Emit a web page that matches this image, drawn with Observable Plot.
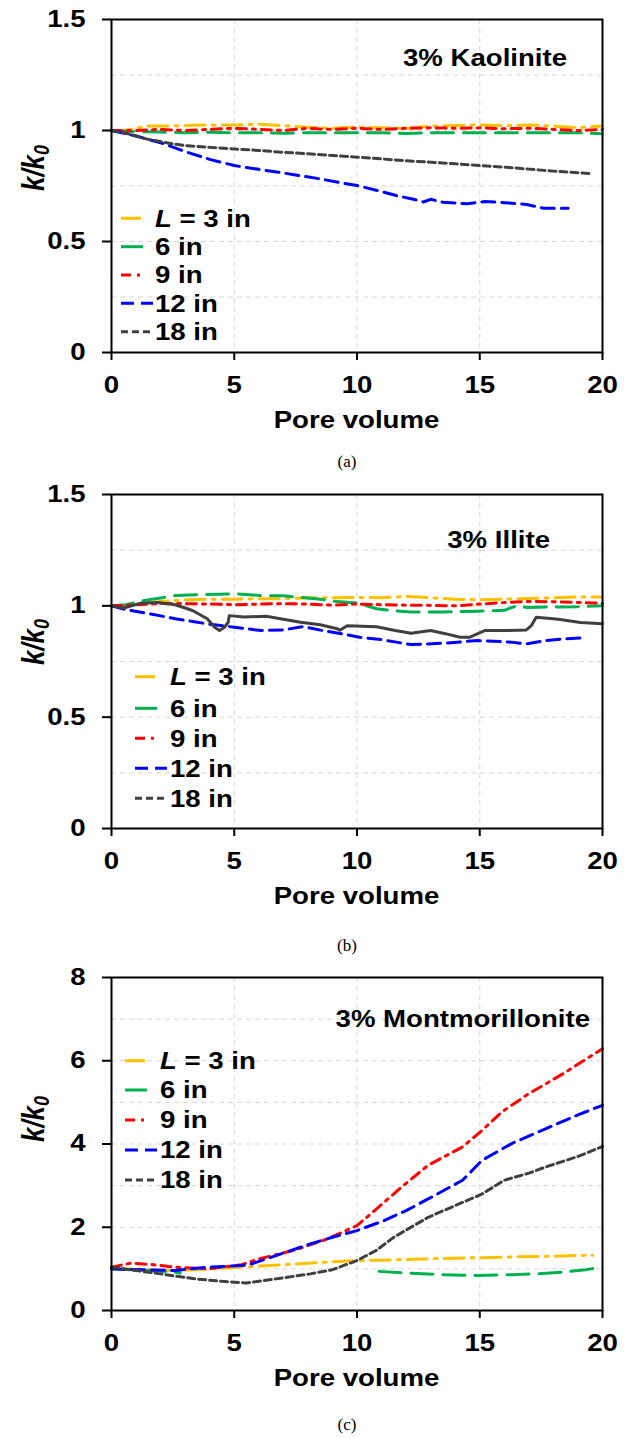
<!DOCTYPE html>
<html>
<head>
<meta charset="utf-8">
<script src="https://cdn.jsdelivr.net/npm/d3@7"></script>
<script src="https://cdn.jsdelivr.net/npm/@observablehq/plot@0.6"></script>
<style>
  body { margin: 0; background: #fff; }
  #chart { position: relative; width: 633px; height: 1438px; overflow: hidden; }
  #chart svg { position: absolute; left: 0; }
</style>
</head>
<body>
<div id="chart"></div>
<script>
// Pore-volume ticks and legend entries
const pvTicks = [0, 5, 10, 15, 20];
const legendLabels = ["3 in", "6 in", "9 in", "12 in", "18 in"];

// (a) 3% Kaolinite — [pore volume, k/k0]
const kao3 = [[0,1.0],[0.5,1.0],[1,1.01],[1.5,1.02],[2,1.02],[3,1.022],[4,1.025],[5,1.025],[6,1.028],[7,1.022],[8,1.015],[9,1.01],[10,1.015],[11,1.012],[12,1.01],[13,1.02],[14,1.022],[15,1.025],[16,1.022],[17,1.025],[18,1.02],[19,1.012],[20,1.02]];
const kao6 = [[0,1.0],[1,0.995],[2,0.993],[3,0.99],[4,0.992],[5,0.99],[6,0.99],[7,0.988],[8,0.99],[9,0.99],[10,0.99],[11,0.99],[12,0.986],[13,0.99],[14,0.99],[15,0.99],[16,0.99],[17,0.99],[18,0.99],[19,0.99],[20,0.985]];
const kao9 = [[0,1.0],[1,1.0],[2,1.005],[3,1.0],[4,1.005],[5,1.01],[6,1.005],[7,1.0],[8,1.01],[9,1.005],[10,1.01],[11,1.005],[12,1.01],[13,1.012],[14,1.01],[15,1.012],[16,1.008],[17,1.01],[18,1.005],[19,1.0],[20,1.005]];
const kao12 = [[0,1.0],[1,0.975],[2,0.945],[2.5,0.925],[3,0.905],[4,0.87],[5,0.842],[6,0.825],[6.8,0.812],[7.5,0.8],[8.5,0.782],[9.3,0.765],[10,0.752],[11,0.725],[11.6,0.707],[12.3,0.69],[12.7,0.678],[13,0.69],[13.5,0.677],[14.5,0.67],[15.2,0.68],[16,0.675],[16.9,0.667],[17.6,0.65],[18.6,0.65]];
const kao18 = [[0,1.0],[0.5,0.99],[1,0.975],[1.5,0.96],[2,0.95],[2.5,0.94],[3,0.932],[4,0.924],[5,0.917],[6,0.91],[7,0.902],[8,0.895],[9,0.887],[10,0.88],[11,0.872],[12,0.864],[13,0.857],[14,0.85],[15,0.842],[16,0.835],[17,0.826],[18,0.817],[19,0.81],[19.5,0.806]];

// (b) 3% Illite
const ill3 = [[0,1.0],[0.5,1.0],[1,1.01],[2,1.02],[3,1.027],[4,1.03],[5,1.03],[6,1.032],[7,1.032],[8,1.036],[9,1.036],[10,1.038],[11,1.036],[12,1.042],[13,1.036],[14,1.03],[15,1.027],[16,1.03],[17,1.033],[18,1.036],[19,1.04],[20,1.04]];
const ill6 = [[0,1.0],[0.6,1.005],[1.2,1.022],[2,1.035],[2.6,1.046],[3.5,1.05],[5,1.054],[6.1,1.046],[7,1.045],[7.6,1.039],[8.5,1.03],[9.2,1.019],[10,1.012],[10.8,0.987],[11.5,0.978],[12.2,0.972],[13.5,0.972],[14.9,0.976],[16,0.98],[16.5,1.0],[16.9,0.993],[18,0.995],[19,0.996],[20,1.0]];
const ill9 = [[0,1.0],[1,1.005],[2,1.01],[3,1.01],[4,1.008],[5,1.005],[6,1.008],[7,1.01],[8,1.008],[9,1.003],[10,1.008],[11,1.005],[12,1.003],[13,1.002],[14,1.0],[15,1.008],[16,1.015],[17,1.02],[18,1.018],[19,1.015],[20,1.012]];
const ill12 = [[0,1.0],[0.5,0.985],[1.2,0.971],[2,0.955],[2.6,0.942],[3.3,0.93],[3.9,0.919],[5,0.904],[6.1,0.889],[7,0.892],[7.8,0.907],[8.6,0.889],[9.4,0.874],[10.1,0.859],[11,0.848],[11.6,0.837],[12.2,0.826],[13.5,0.832],[14.9,0.844],[16.3,0.837],[16.9,0.829],[17.7,0.844],[18.4,0.852],[19.3,0.856]];
const ill18 = [[0,1.0],[0.5,0.99],[1.2,1.012],[1.9,1.015],[2.6,1.005],[3.3,0.979],[3.9,0.942],[4.2,0.904],[4.4,0.889],[4.6,0.904],[4.75,0.925],[4.8,0.956],[5.4,0.95],[6.3,0.953],[7,0.94],[7.7,0.926],[8.5,0.915],[9.2,0.897],[9.3,0.89],[9.6,0.911],[10.8,0.906],[11.5,0.89],[12.2,0.877],[13,0.889],[13.6,0.875],[14.2,0.859],[14.6,0.859],[15.2,0.889],[16,0.889],[16.9,0.892],[17.1,0.911],[17.3,0.949],[18.2,0.94],[19.1,0.925],[20,0.919]];

// (c) 3% Montmorillonite
const mon3 = [[0,1.0],[1,1.0],[2,0.97],[2.6,0.95],[4,1.0],[5.5,1.05],[7,1.1],[8.1,1.14],[9,1.17],[10,1.2],[11,1.21],[12.2,1.23],[13.5,1.25],[15.1,1.27],[16.5,1.29],[17.7,1.3],[19.6,1.33]];
const mon6 = [[0,1.0],[1.3,0.97],[2.6,0.92],[2.8,0.9],[6,null],[10.9,0.94],[12,0.9],[13.5,0.86],[14.9,0.84],[16.3,0.86],[17.3,0.88],[18.4,0.92],[19.3,0.98],[20,1.04]];
const mon9 = [[0,1.04],[0.8,1.14],[1.7,1.1],[2.6,1.04],[3.9,1.0],[5.3,1.1],[6.0,1.24],[7.4,1.44],[8.8,1.72],[10,2.04],[10.8,2.44],[11.8,2.96],[12.9,3.49],[14.3,3.93],[15.1,4.33],[15.9,4.77],[17,5.21],[18.4,5.69],[20,6.29]];
const mon12 = [[0,1.0],[1.3,0.98],[2.6,0.96],[3.9,1.04],[5.3,1.08],[5.6,1.1],[6.7,1.32],[8.1,1.6],[9,1.76],[10,1.92],[11.1,2.16],[12,2.4],[12.9,2.68],[14.3,3.13],[15.1,3.61],[16.3,4.01],[17.7,4.37],[19,4.7],[20,4.93]];
const mon18 = [[0,1.04],[1,0.96],[2,0.88],[3.4,0.76],[4.5,0.7],[5.5,0.66],[6.7,0.76],[8.1,0.88],[9,0.98],[10,1.2],[10.8,1.45],[11.5,1.76],[12.9,2.24],[14,2.52],[15.1,2.8],[16,3.13],[17,3.3],[17.7,3.45],[19,3.7],[20,3.94]];

// Line appearance per specimen length, in legend order (sample = legend swatch length)
const looks = [
  { color: "#FFC000", dash: "20,7,3,7", sample: 22 },
  { color: "#00B050", dash: "22,10", sample: 22 },
  { color: "#FF0000", dash: "10,6,3,6", sample: 22 },
  { color: "#0000FF", dash: "13,7", sample: 32 },
  { color: "#404040", dash: "7,4", sample: 32 }
];

const panels = [
  { top: 0, height: 476, plotTop: 19, plotBottom: 352, yMax: 1.5, yTicks: [0, 0.5, 1, 1.5], yGrid: [0.25, 0.5, 0.75, 1, 1.25],
    series: [kao3, kao6, kao9, kao12, kao18], solidLast: false,
    title: "3% Kaolinite", titleEnd: 567, titleBase: 66,
    legX: 121, legText: 155, legRows: [218.3, 246.7, 275, 303.3, 331.7],
    yLabelMid: 168, caption: "(a)", captionBase: 467 },
  { top: 476, height: 482, plotTop: 494, plotBottom: 828, yMax: 1.5, yTicks: [0, 0.5, 1, 1.5], yGrid: [0.25, 0.5, 0.75, 1, 1.25],
    series: [ill3, ill6, ill9, ill12, ill18], solidLast: true,
    title: "3% Illite", titleEnd: 550, titleBase: 548,
    legX: 135, legText: 170, legRows: [676.7, 708.3, 738.3, 768.3, 798.3],
    yLabelMid: 642, caption: "(b)", captionBase: 951 },
  { top: 958, height: 480, plotTop: 977, plotBottom: 1310, yMax: 8, yTicks: [0, 2, 4, 6, 8], yGrid: [1, 2, 3, 4, 5, 6, 7],
    series: [mon3, mon6, mon9, mon12, mon18], solidLast: false,
    title: "3% Montmorillonite", titleEnd: 590, titleBase: 1027,
    legX: 125, legText: 160, legRows: [1060.7, 1090, 1120, 1150, 1180],
    yLabelMid: 1119, caption: "(c)", captionBase: 1430 }
];

const FONT = "'Liberation Sans', Arial, sans-serif";
const SIZE = 23;       // text size
const WIDEN = 1.2;     // horizontal stretch of the lettering
const chart = document.getElementById("chart");
const grid = { stroke: "#d6d6d6", strokeOpacity: 1, strokeWidth: 1, strokeDasharray: "5,4" };

// widen one tick label about its own anchor point; its y offset (in em) stays as it is
function widen(t) {
  const x = parseFloat(t.getAttribute("x")) || 0;
  const tr = t.getAttribute("transform") || "";
  t.removeAttribute("x");
  t.setAttribute("transform", `${tr} translate(${x},0) scale(${WIDEN},1)`);
}

for (const p of panels) {
  const marginTop = p.plotTop - p.top;
  const marginBottom = p.top + p.height - p.plotBottom;
  const svgEl = Plot.plot({
    width: 633,
    height: p.height,
    marginLeft: 111,
    marginRight: 31,
    marginTop,
    marginBottom,
    style: { fontFamily: FONT, fontSize: SIZE + "px", fontWeight: "bold", color: "black", background: "white", overflow: "visible" },
    x: { domain: [0, 20] },
    y: { domain: [0, p.yMax] },
    marks: [
      Plot.gridX([5, 10, 15], grid),
      Plot.gridY(p.yGrid, grid),
      ...p.series.map((s, i) => Plot.line(s.map(([pv, k]) => ({ pv, k })), {
        x: "pv", y: "k",
        stroke: looks[i].color,
        strokeWidth: 3,
        strokeDasharray: (p.solidLast && i === 4) ? null : looks[i].dash
      })),
      Plot.frame({ stroke: "black", strokeWidth: 2 }),
      Plot.axisX(pvTicks, { tickSize: 8, tickPadding: 16, strokeWidth: 2, label: null, tickFormat: d => String(d) }),
      Plot.axisY(p.yTicks, { tickSize: 9, tickPadding: 17, strokeWidth: 2, label: null, tickFormat: d => String(d) })
    ]
  });
  svgEl.style.top = p.top + "px";
  chart.appendChild(svgEl);

  const svg = d3.select(svgEl);
  svg.selectAll("text").each(function () { widen(this); });

  const ly = y => y - p.top; // page row -> local row
  const g = svg.append("g").attr("font-family", FONT).attr("font-weight", "bold")
    .attr("fill", "black").attr("font-size", SIZE);
  const put = (x, y, anchor) => g.append("text")
    .attr("transform", `translate(${x},${y}) scale(${WIDEN},1)`)
    .attr("text-anchor", anchor);

  // mineral label
  put(p.titleEnd, ly(p.titleBase), "end").text(p.title);

  // axis titles
  put((111 + 602) / 2, ly(p.plotBottom + 76), "middle").text("Pore volume");

  // k/k0, rotated; the glyphs are widened across the page like the other lettering
  const yl = g.append("text")
    .attr("transform", `translate(44,${ly(p.yLabelMid)}) rotate(-90) scale(1,${WIDEN})`)
    .attr("text-anchor", "middle").attr("font-size", 26).attr("font-style", "italic");
  yl.append("tspan").text("k/k");
  yl.append("tspan").attr("font-size", 18).attr("dy", 4).text("0");

  // legend
  legendLabels.forEach((lab, i) => {
    const cy = ly(p.legRows[i]);
    svg.append("line")
      .attr("x1", p.legX).attr("x2", p.legX + looks[i].sample).attr("y1", cy).attr("y2", cy)
      .attr("stroke", looks[i].color).attr("stroke-width", 3)
      .attr("stroke-dasharray", looks[i].dash);
    const t = put(p.legText, cy + 8.3, "start");
    if (i === 0) {
      t.append("tspan").attr("font-style", "italic").text("L");
      t.append("tspan").text(" = " + lab);
    } else {
      t.text(lab);
    }
  });

  // panel caption
  svg.append("text").attr("x", 347).attr("y", ly(p.captionBase))
    .attr("text-anchor", "middle").attr("font-family", "'Liberation Serif', 'Times New Roman', serif")
    .attr("font-weight", "normal").attr("font-size", 17).attr("fill", "black").text(p.caption);
}
</script>
</body>
</html>
